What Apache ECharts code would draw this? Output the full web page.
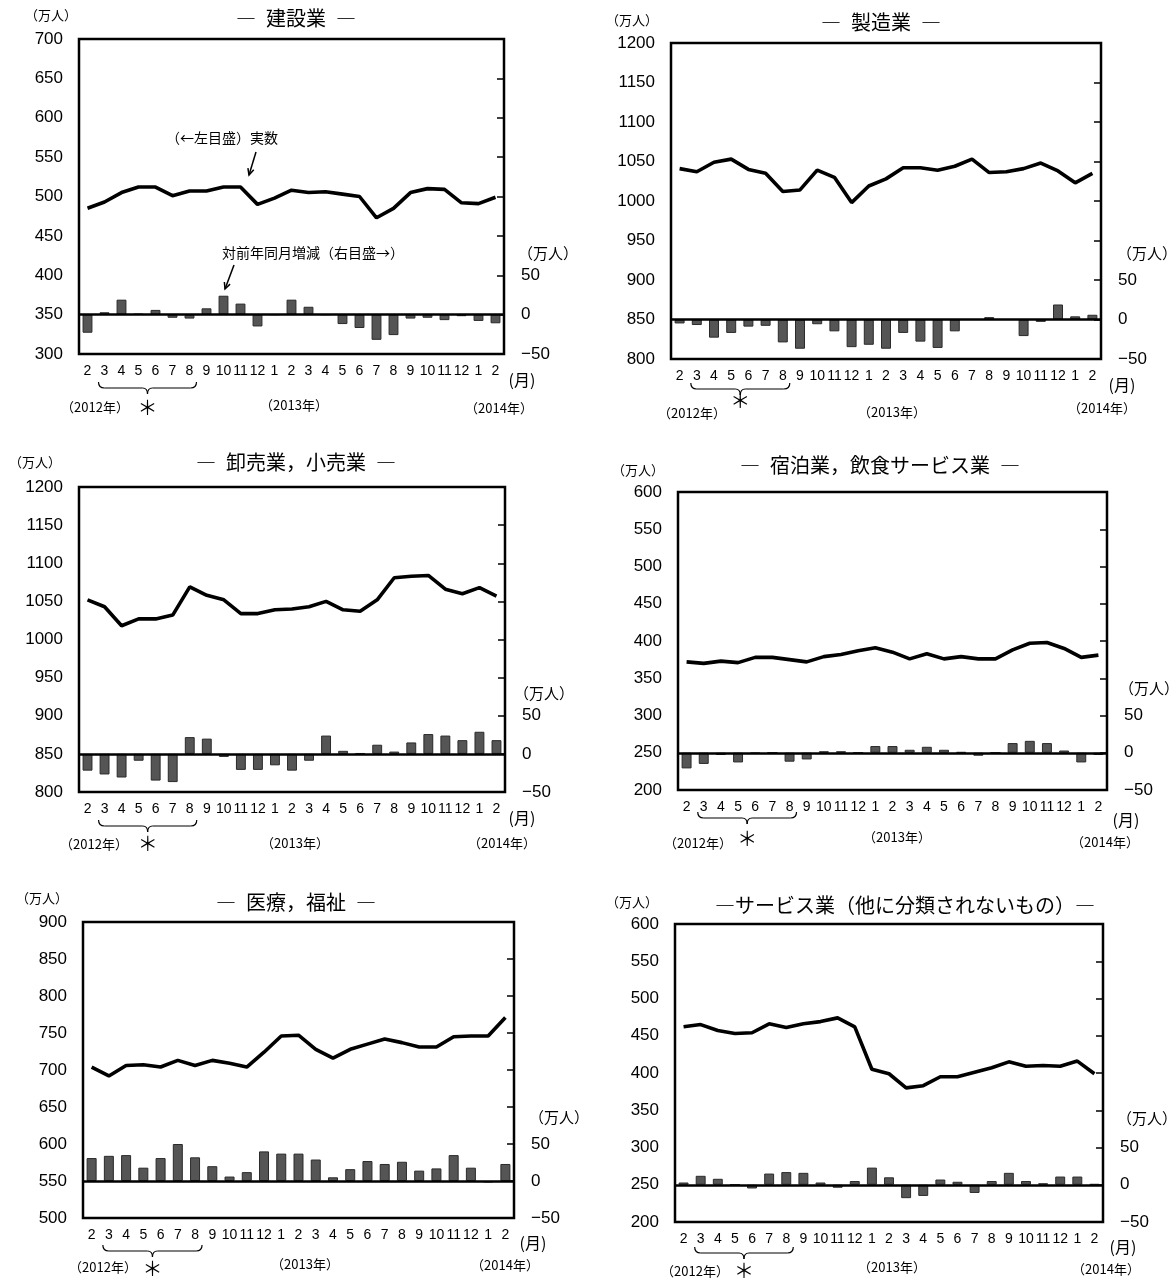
<!DOCTYPE html>
<html><head><meta charset="utf-8">
<script src="https://cdn.jsdelivr.net/npm/echarts@6/dist/echarts.min.js"></script>
<style>html,body{margin:0;padding:0;background:#fff}#c{width:1172px;height:1279px}</style>
</head><body><div id="c"></div>
<script>
// ---- data ----
const months = ['2','3','4','5','6','7','8','9','10','11','12','1','2','3','4','5','6','7','8','9','10','11','12','1','2'];
const titles = ['―\u2002建設業\u2002―','―\u2002製造業\u2002―','―\u2002卸売業，小売業\u2002―','―\u2002宿泊業，飲食サービス業\u2002―','―\u2002医療，福祉\u2002―','―サービス業（他に分類されないもの）―'];
const leftMin = [300, 800, 800, 200, 500, 200];
const leftMax = [700, 1200, 1200, 600, 900, 600];
const rightMin = -50, rightMax = 350, axisStep = 50;
const rightLabels = [-50, 0, 50];

const kensetsuLine = [485,493,505,512,512,501,507,507,512,512,490,498,508,505,506,503,500,473,485,505,510,509,492,491,499];
const kensetsuBar  = [-23,3,19,1,6,-4,-5,8,24,14,-15,0,19,10,0,-12,-17,-32,-26,-5,-4,-7,-2,-8,-11];
const seizouLine   = [1041,1037,1049,1053,1040,1035,1012,1014,1039,1030,998,1019,1028,1042,1042,1039,1044,1053,1036,1037,1041,1048,1038,1023,1035];
const seizouBar    = [-5,-7,-23,-17,-9,-8,-29,-37,-6,-15,-35,-32,-37,-17,-28,-36,-15,0,3,0,-21,-3,19,4,6];
const orosiLine    = [1052,1043,1018,1027,1027,1032,1069,1058,1052,1034,1034,1039,1040,1043,1050,1039,1037,1052,1081,1083,1084,1066,1060,1068,1057];
const orosiBar     = [-22,-27,-31,-9,-35,-37,22,20,-4,-21,-21,-15,-22,-9,24,4,1,12,3,15,26,24,18,29,18];
const shukuLine    = [372,370,373,371,378,378,375,372,379,382,387,391,385,376,383,376,379,376,376,388,397,398,390,378,381];
const shukuBar     = [-21,-15,-3,-13,-1,0,-12,-9,2,2,0,9,9,4,8,4,1,-4,0,13,16,13,3,-13,-3];
const iryoLine     = [704,692,706,707,704,713,706,713,709,704,724,746,747,728,716,728,735,742,737,731,731,745,746,746,771];
const iryoBar      = [31,34,35,18,31,50,32,20,6,12,40,37,37,29,5,16,27,23,26,14,17,35,18,-2,23];
const serviceLine  = [462,465,457,453,454,466,461,466,469,474,462,405,399,380,383,395,395,401,407,415,409,410,409,416,399];
const serviceBar   = [3,12,8,0,-5,15,17,16,3,-4,5,23,10,-18,-15,7,4,-11,5,16,5,2,11,11,1];

const lineData = [kensetsuLine, seizouLine, orosiLine, shukuLine, iryoLine, serviceLine];
const barData  = [kensetsuBar, seizouBar, orosiBar, shukuBar, iryoBar, serviceBar];
const yearLabels = ['（2012年）','（2013年）','（2014年）'];

// ---- layout (positions only) ----
const P = [
 {g:[79,39,425,315],  title:[296,18],  lu:[51,15],   ru:[518,253],  mon:[522,380],  br:382,  ast:407,  y12:[95,407],  y13:[294,405],  y14:[499,408]},
 {g:[671,43,430,316], title:[881,22],  lu:[632,20],  ru:[1117,253], mon:[1122,385], br:383,  ast:400,  y12:[692,413], y13:[892,412],  y14:[1102,408]},
 {g:[79,487,426,305], title:[296,462], lu:[35,462],  ru:[514,693],  mon:[522,818],  br:820,  ast:843,  y12:[94,844],  y13:[295,843],  y14:[502,843]},
 {g:[678,492,429,298],title:[880,465], lu:[638,470], ru:[1119,688], mon:[1126,820], br:812,  ast:838,  y12:[698,843], y13:[897,837],  y14:[1105,842]},
 {g:[83,922,431,296], title:[296,902], lu:[42,898],  ru:[529,1117], mon:[533,1243], br:1245, ast:1268, y12:[103,1267],y13:[305,1264], y14:[505,1265]},
 {g:[675,924,428,298],title:[905,905], lu:[632,902], ru:[1117,1118],mon:[1123,1247],br:1247, ast:1270, y12:[695,1271],y13:[892,1267], y14:[1106,1269]}
];

const NUM = '"Liberation Sans", Arial, "Noto Sans CJK JP", sans-serif';
const JP = '"Noto Sans CJK JP", sans-serif';

const chart = echarts.init(document.getElementById('c'), null, {renderer:'canvas'});
const grid = [], xAxis = [], yAxis = [], series = [];
P.forEach((p, k) => {
  grid.push({left:p.g[0], top:p.g[1], width:p.g[2], height:p.g[3], show:true, borderColor:'#000', borderWidth:2.5, backgroundColor:'transparent', containLabel:false, outerBoundsMode:'none'});
  xAxis.push({type:'category', gridIndex:k, data:months, boundaryGap:true,
    axisLine:{show:false}, axisTick:{show:false},
    axisLabel:{interval:0, margin:10, fontSize:14, color:'#000', fontFamily:NUM}});
  yAxis.push({type:'value', gridIndex:k, position:'left', min:leftMin[k], max:leftMax[k], interval:axisStep,
    axisLine:{show:false}, axisTick:{show:false}, splitLine:{show:false},
    axisLabel:{fontSize:17, margin:16, color:'#000', fontFamily:NUM, formatter: v => String(v)}});
  yAxis.push({type:'value', gridIndex:k, position:'right', min:rightMin, max:rightMax, interval:axisStep,
    axisLine:{show:false}, splitLine:{show:false},
    axisTick:{show:true, inside:true, length:7, lineStyle:{color:'#000', width:1.5}},
    axisLabel:{fontSize:17, margin:17, color:'#000', fontFamily:NUM,
      formatter: v => rightLabels.indexOf(v) >= 0 ? (v < 0 ? '−' + Math.abs(v) : String(v)) : ''}});
  series.push({type:'bar', xAxisIndex:k, yAxisIndex:2*k+1, data:barData[k], barWidth:'58%',
    itemStyle:{color:'#555555', borderColor:'#2a2a2a', borderWidth:1}, z:2, silent:true,
    markLine:{silent:true, symbol:['none','none'], label:{show:false}, animation:false,
      lineStyle:{color:'#000', width:2.5, type:'solid'}, data:[{yAxis:0}]}});
  series.push({type:'line', xAxisIndex:k, yAxisIndex:2*k, data:lineData[k], symbol:'none',
    lineStyle:{color:'#000', width:3.6}, z:5, silent:true});
});

chart.setOption({animation:false, backgroundColor:'#fff', grid, xAxis, yAxis, series});

// ---- decorations (text, brace, arrows) ----
const gr = [];
function txt(x, y, s, size, align, font) {
  gr.push({type:'text', x, y, style:{text:s, fontSize:size, fill:'#000', fontFamily:font||JP, textAlign:align||'center', textVerticalAlign:'middle'}});
}
function seg(x1, y1, x2, y2, w) {
  gr.push({type:'line', shape:{x1, y1, x2, y2}, style:{stroke:'#000', lineWidth:w||1.2}});
}
function curve(x1, y1, cx, cy, x2, y2) {
  gr.push({type:'bezierCurve', shape:{x1, y1, x2, y2, cpx1:cx, cpy1:cy}, style:{stroke:'#000', lineWidth:1.2, fill:null}});
}
function arrow(x1, y1, x2, y2) {
  seg(x1, y1, x2, y2, 1.5);
  const a = Math.atan2(y2 - y1, x2 - x1), L = 7, w = 0.45;
  gr.push({type:'polyline', shape:{points:[[x2 - L*Math.cos(a - w), y2 - L*Math.sin(a - w)], [x2, y2], [x2 - L*Math.cos(a + w), y2 - L*Math.sin(a + w)]]}, style:{stroke:'#000', lineWidth:1.5, fill:null}});
}
P.forEach((p, k) => {
  txt(p.title[0], p.title[1], titles[k], 20, 'center');
  txt(p.lu[0], p.lu[1], '（万人）', 13, 'center');
  txt(p.ru[0], p.ru[1], '（万人）', 15, 'left');
  txt(p.mon[0], p.mon[1], '(月)', 16, 'center');
  // brace spanning 3..8 (2012), placed from the category scale
  const xl = chart.convertToPixel({xAxisIndex:k}, 1) - 6;
  const xr = chart.convertToPixel({xAxisIndex:k}, 6) + 7;
  const xm = (xl + xr) / 2, t = p.br, h = 6;
  curve(xl, t, xl, t + h, xl + 6, t + h);
  seg(xl + 6, t + h, xm - 5, t + h);
  curve(xm - 5, t + h, xm, t + h, xm, t + 2*h);
  curve(xm, t + 2*h, xm, t + h, xm + 5, t + h);
  seg(xm + 5, t + h, xr - 6, t + h);
  curve(xr - 6, t + h, xr, t + h, xr, t);
  txt(xm, p.ast, '＊', 20, 'center');
  txt(p.y12[0], p.y12[1], yearLabels[0], 13, 'center');
  txt(p.y13[0], p.y13[1], yearLabels[1], 13, 'center');
  txt(p.y14[0], p.y14[1], yearLabels[2], 13, 'center');
});
txt(222, 138, '（←左目盛）実数', 14, 'center');
arrow(256, 152, 249, 175);
txt(313, 253, '対前年同月増減（右目盛→）', 14, 'center');
arrow(234, 265, 225, 289);

chart.setOption({graphic: gr});
</script></body></html>
